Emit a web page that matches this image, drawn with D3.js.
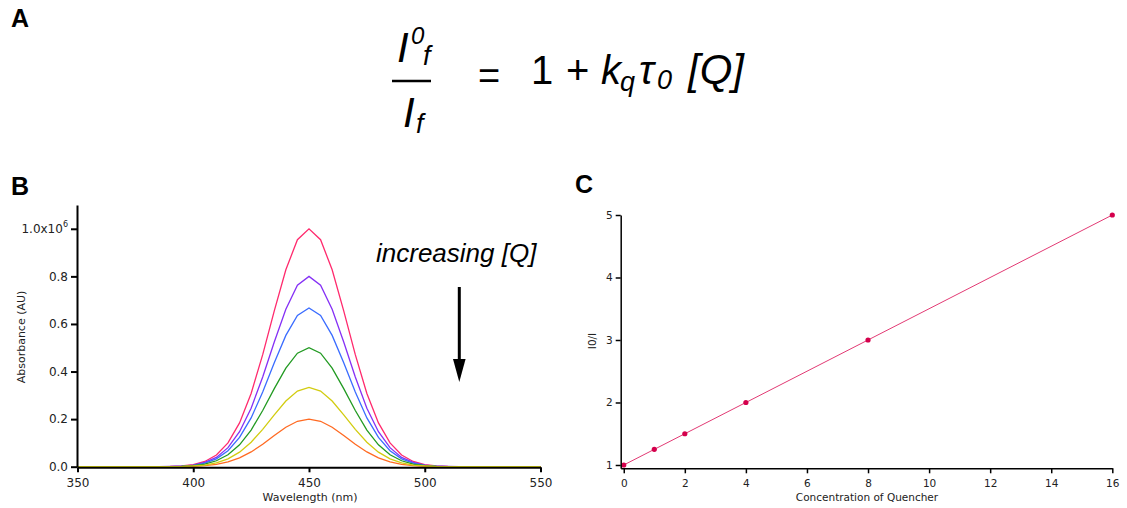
<!DOCTYPE html>
<html>
<head>
<meta charset="utf-8">
<script src="https://cdn.jsdelivr.net/npm/d3@7"></script>
<style>
  body { margin: 0; background: #fff; }
  svg { display: block; }
  .tick text { font-family: "DejaVu Sans", sans-serif; fill: #222; }
  .arial { font-family: "Liberation Sans", Arial, sans-serif; }
</style>
</head>
<body>
<div id="chart"></div>
<script>
// wavelength grid (nm), absorbance in units of 1e6 AU
const wavelengths = [350, 380, 385, 390, 395, 400, 405, 410, 415, 420, 425, 430, 435, 440, 445, 450,
  455, 460, 465, 470, 475, 480, 485, 490, 495, 500, 505, 510, 515, 520, 550]

const specPink = [0, 0.0001, 0.0003, 0.001, 0.003, 0.009, 0.022, 0.049, 0.100, 0.184, 0.308, 0.471, 0.655, 0.828, 0.954, 1.000,
  0.954, 0.828, 0.655, 0.471, 0.308, 0.184, 0.100, 0.049, 0.022, 0.009, 0.003, 0.001, 0.0003, 0.0001, 0]
const specPurple = [0, 0.0001, 0.0002, 0.0008, 0.0024, 0.007, 0.018, 0.039, 0.080, 0.147, 0.246, 0.377, 0.524, 0.662, 0.763, 0.800,
  0.763, 0.662, 0.524, 0.377, 0.246, 0.147, 0.080, 0.039, 0.018, 0.007, 0.0024, 0.0008, 0.0002, 0.0001, 0]
const specBlue = [0, 0.0001, 0.0002, 0.0007, 0.002, 0.006, 0.015, 0.033, 0.067, 0.123, 0.205, 0.314, 0.437, 0.552, 0.636, 0.667,
  0.636, 0.552, 0.437, 0.314, 0.205, 0.123, 0.067, 0.033, 0.015, 0.006, 0.002, 0.0007, 0.0002, 0.0001, 0]
const specGreen = [0, 0, 0.0002, 0.0005, 0.0015, 0.0045, 0.011, 0.025, 0.050, 0.092, 0.154, 0.236, 0.328, 0.414, 0.477, 0.500,
  0.477, 0.414, 0.328, 0.236, 0.154, 0.092, 0.050, 0.025, 0.011, 0.0045, 0.0015, 0.0005, 0.0002, 0, 0]
const specYellow = [0, 0, 0.0001, 0.0003, 0.001, 0.003, 0.007, 0.016, 0.033, 0.061, 0.103, 0.157, 0.218, 0.276, 0.318, 0.333,
  0.318, 0.276, 0.218, 0.157, 0.103, 0.061, 0.033, 0.016, 0.007, 0.003, 0.001, 0.0003, 0.0001, 0, 0]
const specOrange = [0, 0, 0.0001, 0.0002, 0.0006, 0.0018, 0.0044, 0.0098, 0.020, 0.037, 0.062, 0.094, 0.131, 0.166, 0.191, 0.200,
  0.191, 0.166, 0.131, 0.094, 0.062, 0.037, 0.020, 0.0098, 0.0044, 0.0018, 0.0006, 0.0002, 0.0001, 0, 0]

const absTicks = [0, 0.2, 0.4, 0.6, 0.8, 1.0]
const wlTicks = [350, 400, 450, 500, 550]

// Stern-Volmer data
const quencher = [0, 1, 2, 4, 8, 16]
const ratio = [1, 1.25, 1.5, 2, 3, 5]
const ratioTicks = [1, 2, 3, 4, 5]
const quencherTicks = [0, 2, 4, 6, 8, 10, 12, 14, 16]

const spectra = [
  { values: specPink, color: '#ff2a6d' },
  { values: specPurple, color: '#8530f5' },
  { values: specBlue, color: '#3a6cff' },
  { values: specGreen, color: '#229a22' },
  { values: specOrange, color: '#ff6a22' },
  { values: specYellow, color: '#d2cc10' },
]

const svg = d3.select('#chart')
  .append('svg')
  .attr('width', 1127)
  .attr('height', 508)

// panel letters
const letter = (t, x, y) => svg.append('text')
  .attr('class', 'arial')
  .attr('x', x).attr('y', y)
  .attr('font-weight', 'bold')
  .attr('font-size', 25)
  .text(t)
letter('A', 11, 27)
letter('B', 11, 195)
letter('C', 575, 193)

// ---- equation (panel A)
const eq = svg.append('g')
  .attr('class', 'arial')
  .attr('fill', '#000')
const eqText = (t, x, y, size, italic) => eq.append('text')
  .attr('class', 'arial')
  .attr('x', x).attr('y', y)
  .attr('font-size', size)
  .attr('font-style', italic ? 'italic' : 'normal')
  .text(t)

eqText('I', 397, 62, 42, true)
eqText('0', 411, 44, 24, true)
eqText('f', 423, 65, 27, true)
eq.append('line')
  .attr('x1', 392).attr('x2', 431)
  .attr('y1', 81).attr('y2', 81)
  .attr('stroke', '#000').attr('stroke-width', 2.5)
eqText('I', 403, 127, 42, true)
eqText('f', 416, 133, 27, true)
eqText('=', 478, 89, 38, false)
eqText('1', 531, 84, 40, false)
eqText('+', 566, 84, 40, false)
eqText('k', 601, 84, 40, true)
eqText('q', 620, 91, 27, true)
eqText('\u03C4', 639, 84, 40, true)
eqText('0', 657, 89, 27, true)
eqText('[Q]', 688, 84, 42, true)

// ---- panel B: spectra
const xB = d3.scaleLinear().domain([350, 550]).range([77.5, 540.5])
const yB = d3.scaleLinear().domain([0, 1.1]).range([466.7, 205])

const gB = svg.append('g')

const lineB = d3.line()
  .x((d, i) => xB(wavelengths[i]))
  .y(d => yB(d))

gB.selectAll('path.spec')
  .data(spectra)
  .enter()
  .append('path')
  .attr('class', 'spec')
  .attr('d', d => lineB(d.values))
  .attr('fill', 'none')
  .attr('stroke', d => d.color)
  .attr('stroke-width', 1.3)

const axB_y = gB.append('g')
  .attr('transform', `translate(${xB(350) - 0.5},0)`)
  .call(d3.axisLeft(yB).tickValues(absTicks).tickSize(6).tickSizeOuter(0).tickPadding(3)
    .tickFormat(d3.format('.1f')))
axB_y.selectAll('.tick text').attr('font-size', 12)
  .each(function (d) {
    if (d === 1) {
      const t = d3.select(this)
      t.text('1.0x10')
      t.append('tspan').attr('dy', -6).attr('font-size', 8).text('6')
    }
  })

const axB_x = gB.append('g')
  .attr('transform', `translate(0,${yB(0) + 0.6})`)
  .call(d3.axisBottom(xB).tickValues(wlTicks).tickSize(5).tickSizeOuter(0).tickPadding(6))
axB_x.selectAll('.tick text').attr('font-size', 12)

;[axB_x, axB_y].forEach(a => {
  a.select('.domain').attr('stroke', '#000').attr('stroke-width', 2)
  a.selectAll('.tick line').attr('stroke', '#000').attr('stroke-width', 2)
})

gB.append('text')
  .attr('transform', 'translate(25,337) rotate(-90)')
  .attr('text-anchor', 'middle')
  .attr('font-family', 'DejaVu Sans, sans-serif')
  .attr('font-size', 11)
  .attr('fill', '#222')
  .text('Absorbance (AU)')

gB.append('text')
  .attr('x', 310).attr('y', 501)
  .attr('text-anchor', 'middle')
  .attr('font-family', 'DejaVu Sans, sans-serif')
  .attr('font-size', 11)
  .attr('fill', '#222')
  .text('Wavelength (nm)')

gB.append('text')
  .attr('class', 'arial')
  .attr('x', 376).attr('y', 262)
  .attr('font-style', 'italic')
  .attr('font-size', 26)
  .text('increasing [Q]')

gB.append('line')
  .attr('x1', 459.3).attr('x2', 459.3)
  .attr('y1', 287).attr('y2', 362)
  .attr('stroke', '#000').attr('stroke-width', 3)
gB.append('path')
  .attr('d', 'M453,359 L465.6,359 L459.3,382 Z')
  .attr('fill', '#000')

// ---- panel C: Stern-Volmer plot
const xC = d3.scaleLinear().domain([-0.1, 16]).range([620.7, 1112.3])
const yC = d3.scaleLinear().domain([0.947, 5]).range([468.3, 215])

const gC = svg.append('g')

const lineC = d3.line()
  .x((d, i) => xC(quencher[i]))
  .y(d => yC(d))

gC.append('path')
  .attr('d', lineC(ratio))
  .attr('fill', 'none')
  .attr('stroke', '#e23a74')
  .attr('stroke-width', 1)

gC.selectAll('circle')
  .data(ratio)
  .enter()
  .append('circle')
  .attr('cx', (d, i) => xC(quencher[i]))
  .attr('cy', d => yC(d))
  .attr('r', 2.6)
  .attr('fill', '#d4004c')

const axC_y = gC.append('g')
  .attr('transform', `translate(${xC(-0.1)},0)`)
  .call(d3.axisLeft(yC).tickValues(ratioTicks).tickSize(5).tickSizeOuter(0).tickPadding(3)
    .tickFormat(d3.format('d')))
const axC_x = gC.append('g')
  .attr('transform', `translate(0,${yC(0.947)})`)
  .call(d3.axisBottom(xC).tickValues(quencherTicks).tickSize(5).tickSizeOuter(0).tickPadding(6)
    .tickFormat(d3.format('d')))

;[axC_x, axC_y].forEach(a => {
  a.select('.domain').attr('stroke', '#000').attr('stroke-width', 1.5)
  a.selectAll('.tick line').attr('stroke', '#000').attr('stroke-width', 1.5)
  a.selectAll('.tick text').attr('font-size', 10.5)
})

gC.append('text')
  .attr('transform', 'translate(596,341) rotate(-90)')
  .attr('text-anchor', 'middle')
  .attr('font-family', 'DejaVu Sans, sans-serif')
  .attr('font-size', 10.5)
  .attr('fill', '#222')
  .text('I0/I')

gC.append('text')
  .attr('x', 867).attr('y', 501)
  .attr('text-anchor', 'middle')
  .attr('font-family', 'DejaVu Sans, sans-serif')
  .attr('font-size', 10.5)
  .attr('fill', '#222')
  .text('Concentration of Quencher')
</script>
</body>
</html>
